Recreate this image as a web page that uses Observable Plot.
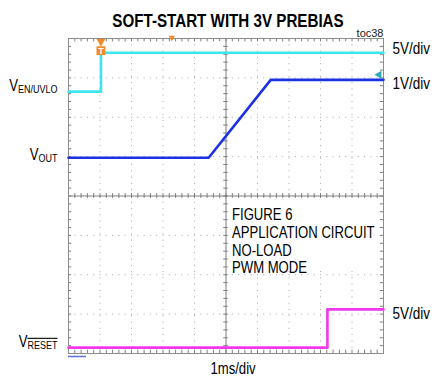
<!DOCTYPE html>
<html><head><meta charset="utf-8">
<script src="https://cdn.jsdelivr.net/npm/d3@7"></script>
<script src="https://cdn.jsdelivr.net/npm/@observablehq/plot@0.6"></script>
<style>body{margin:0;background:#fff} svg{display:block}</style>
</head><body><div id="chart"></div>
<script>
// ---- texts ----
const title = "SOFT-START WITH 3V PREBIAS";
const tag = "toc38";
const timeLabel = "1ms/div";
const noteLines = ["FIGURE 6", "APPLICATION CIRCUIT", "NO-LOAD", "PWM MODE"];
const channelNames = ["V|EN/UVLO", "V|OUT", "V|RESET"];
const scaleLabels = ["5V/div", "1V/div", "5V/div"];

// ---- traces (x: divisions at 1ms/div, y: divisions from bottom) ----
const enTime = [0, 1.03, 1.03, 10];
const enLevel = [6.65, 6.65, 7.64, 7.64];
const outTime = [0, 4.45, 6.42, 10];
const outLevel = [4.97, 4.97, 6.95, 6.95];
const resetTime = [0, 8.22, 8.22, 10];
const resetLevel = [0.15, 0.15, 1.12, 1.12];

// ---- scope markers ----
const triggerTime = [1.03];
const triggerPosition = [3.28];
const triggerLevel = [7.08];

const pts = (t, v) => t.map((x, i) => ({t: x, v: v[i]}));
const en = pts(enTime, enLevel), out = pts(outTime, outLevel), rst = pts(resetTime, resetLevel);

const xMajor = [1, 2, 3, 4, 6, 7, 8, 9];
const yMajor = [1, 2, 3, 5, 6, 7];
const xMinor = d3.range(0, 10.001, 0.2);
const yMinor = d3.range(0, 8.001, 0.2);

const C_EN = "#3ee4ee", C_OUT = "#1c30e4", C_RST = "#f038ea", C_TRIG = "#f28a2a";
const GRID = "#a8a8a8", AXIS = "#7c7c7c";
const sans = '"Liberation Sans", Arial, sans-serif';

const tk = 0.085; // minor tick length in divisions (vertical)
const tkx = 0.1;  // minor tick length in divisions (horizontal)

const first = a => [a[0]];
const last = a => [a[a.length - 1]];

const svg = Plot.plot({
  width: 445, height: 376,
  marginLeft: 68, marginRight: 62, marginTop: 38, marginBottom: 23,
  x: {domain: [0, 10], axis: null},
  y: {domain: [0, 8], axis: null},
  style: {fontFamily: sans, background: "white", color: "black"},
  marks: [
    Plot.gridX(xMajor, {stroke: GRID, strokeOpacity: 1, strokeDasharray: "1,5.3"}),
    Plot.gridY(yMajor, {stroke: GRID, strokeOpacity: 1, strokeDasharray: "1,5.3"}),
    Plot.rect([{}], {x1: () => 5.03, x2: () => 9.93, y1: () => 2.1, y2: () => 3.95, fill: "white"}),
    Plot.ruleX([5], {stroke: AXIS}),
    Plot.ruleY([4], {stroke: AXIS}),
    Plot.ruleX(xMinor, {y1: 4 - tk / 1.4, y2: 4 + tk / 1.4, stroke: AXIS}),
    Plot.ruleY(yMinor, {x1: 5 - tkx / 1.4, x2: 5 + tkx / 1.4, stroke: AXIS}),
    Plot.ruleX(xMinor, {y1: 8, y2: 8 - tk, stroke: AXIS}),
    Plot.ruleX(xMinor, {y1: 0, y2: tk, stroke: AXIS}),
    Plot.ruleY(yMinor, {x1: 0, x2: tkx, stroke: AXIS}),
    Plot.ruleY(yMinor, {x1: 10, x2: 10 - tkx, stroke: AXIS}),
    Plot.frame({stroke: "#8c8c8c"}),
    // traces
    Plot.line(en, {x: "t", y: "v", stroke: C_EN, strokeWidth: 2.6}),
    Plot.line(out, {x: "t", y: "v", stroke: C_OUT, strokeWidth: 2.6}),
    Plot.line(rst, {x: "t", y: "v", stroke: C_RST, strokeWidth: 2.6}),
    // scope markers
    Plot.dot(triggerTime, {x: d => d, y: () => 8, dy: 3, symbol: "triangle", r: 3.2, fill: C_TRIG, stroke: null, rotate: 180}),
    Plot.dot(triggerPosition, {x: d => d, y: () => 8, dy: -1, symbol: "triangle", r: 2.4, fill: C_TRIG, stroke: null, rotate: 180}),
    Plot.dot(triggerTime, {x: d => d, y: last(enLevel)[0], dy: -2, symbol: "square", r: 5, fill: C_TRIG, stroke: null}),
    Plot.text(triggerTime, {x: d => d, y: last(enLevel)[0], dy: -2, text: () => "T", fill: "white", fontSize: 9, fontWeight: "bold"}),
    Plot.dot(triggerLevel, {x: () => 9.86, y: d => d, symbol: "triangle", r: 3, fill: "#2eaab4", stroke: null, rotate: -90}),
    Plot.ruleY([0], {x1: 0, x2: 0.57, dy: 3, stroke: "#6070e0", strokeWidth: 1.5}),
    // note
    Plot.text([noteLines.join("\n")], {x: 5, y: 4, dx: 6, dy: 11.5, textAnchor: "start", lineAnchor: "top", lineHeight: 1.11, fontSize: 16, fill: "black"}),
    // titles
    Plot.text([title], {frameAnchor: "top", lineAnchor: "middle", dy: -17, dx: 2, fontSize: 18.5, fontWeight: "bold", fill: "black"}),
    Plot.text([tag], {frameAnchor: "top-right", lineAnchor: "middle", dy: -5, textAnchor: "end", fontSize: 11, fill: "#222"}),
    Plot.text([timeLabel], {frameAnchor: "bottom", lineAnchor: "middle", dy: 15, dx: 7, fontSize: 16, fill: "black"}),
    // right scale labels
    Plot.text(last(enLevel), {frameAnchor: "right", y: d => d, dx: 9, dy: -4, text: () => scaleLabels[0], textAnchor: "start", fontSize: 16.5, fill: "black"}),
    Plot.text(last(outLevel), {frameAnchor: "right", y: d => d, dx: 9, dy: 4, text: () => scaleLabels[1], textAnchor: "start", fontSize: 16.5, fill: "black"}),
    Plot.text(last(resetLevel), {frameAnchor: "right", y: d => d, dx: 9, dy: 4, text: () => scaleLabels[2], textAnchor: "start", fontSize: 16.5, fill: "black"}),
    // left channel labels
    Plot.text(first(enLevel), {frameAnchor: "left", y: d => d, dx: -11, dy: -6, text: () => channelNames[0], textAnchor: "end", fontSize: 16, fill: "black"}),
    Plot.text(first(outLevel), {frameAnchor: "left", y: d => d, dx: -11, dy: -3, text: () => channelNames[1], textAnchor: "end", fontSize: 16, fill: "black"}),
    Plot.text(first(resetLevel), {frameAnchor: "left", y: d => d, dx: -11, dy: -6, text: () => channelNames[2], textAnchor: "end", fontSize: 16, fill: "black"})
  ]
});

// rich subscripts for channel names
d3.select(svg).selectAll("text").each(function () {
  const s = this.textContent;
  if (!s.includes("|")) return;
  const [main, sub] = s.split("|");
  const el = d3.select(this);
  el.text(null);
  el.append("tspan").text(main);
  const t = el.append("tspan").attr("font-size", 11).attr("dy", 2).text(sub);
  if (sub === "RESET") t.style("text-decoration", "overline");
});

// emulate a narrow face (Arial Narrow ≈ 82% of Arial width) by scaling about each anchor
const NARROW = 0.82;
svg.querySelectorAll("text").forEach(t => {
  const s = t.textContent;
  if (s === "T" || s === tag) return;
  const tr = t.getAttribute("transform") || "";
  t.setAttribute("transform", (tr + ` scale(${NARROW},1)`).trim());
});

document.getElementById("chart").append(svg);
</script>
</body></html>
